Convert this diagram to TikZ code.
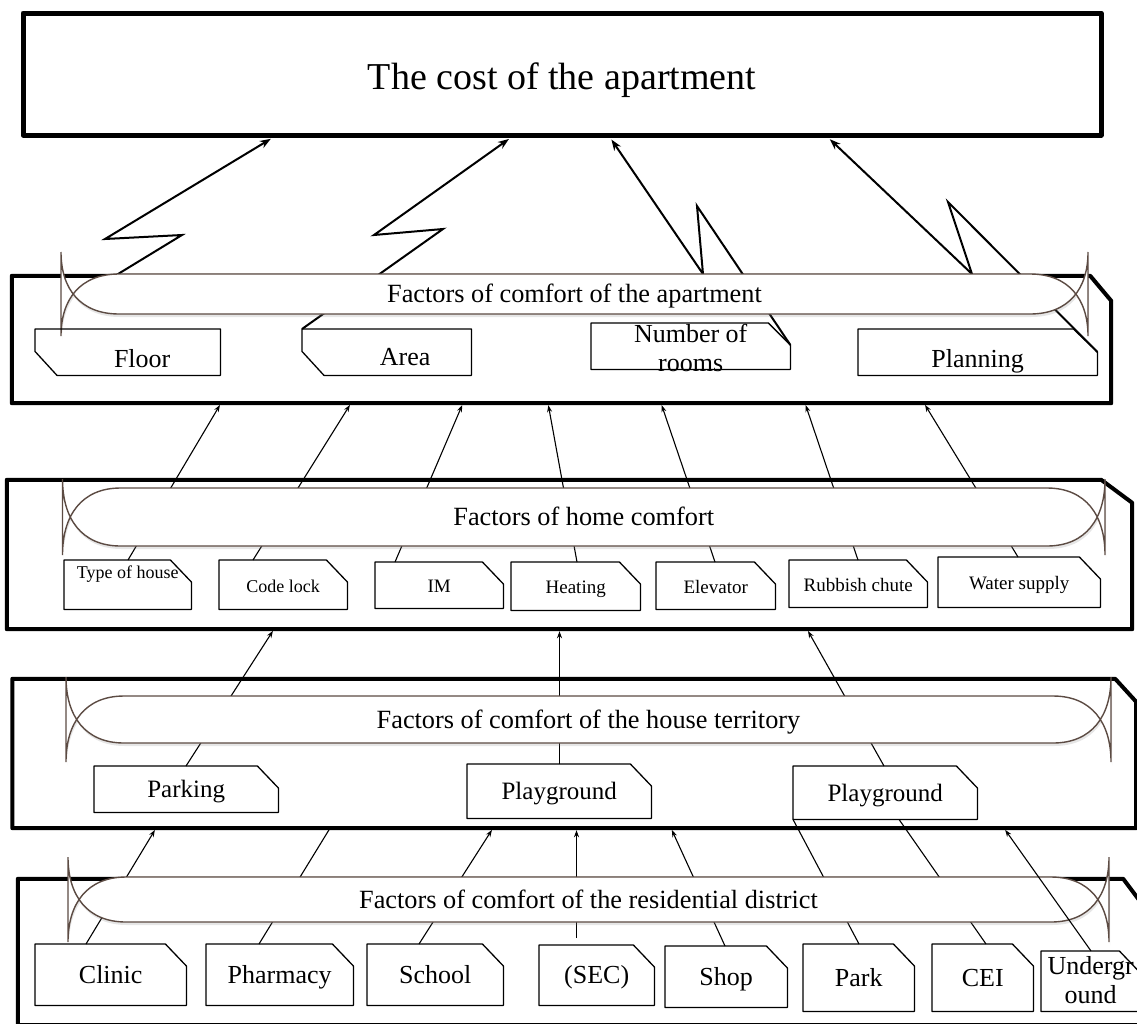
\documentclass[tikz,border=0pt]{standalone}
\usepackage{fontspec}
\setmainfont{Liberation Serif}
\usetikzlibrary{arrows.meta,shadows}
\definecolor{scrollbrown}{HTML}{5C4B43}

\newcommand{\tagne}[3]{\draw[tagline] (#1.north west) -- ([xshift=-#2pt]#1.north east) -- ([yshift=-#3pt]#1.north east) -- (#1.south east) -- (#1.south west) -- cycle;}
\newcommand{\tagsw}[3]{\draw[tagline] (#1.north west) -- (#1.north east) -- (#1.south east) -- ([xshift=#2pt]#1.south west) -- ([yshift=#3pt]#1.south west) -- cycle;}
\newcommand{\framene}[3]{\draw[frameline] (#1.north west) -- ([xshift=-#2pt]#1.north east) -- ([yshift=-#3pt]#1.north east) -- (#1.south east) -- (#1.south west) -- cycle;}
\newcommand{\banner}[7]{%
  \draw[bannerline] ({#2+58},#4) -- ({#3-58},#4)
    .. controls ({#3-19},#4) and (#3,{#4+0.41*(#5+#6-#4)}) .. (#3,{#5+#6})
    -- (#3,{#4-#6})
    .. controls (#3,{#5-0.41*(#5+#6-#4)}) and ({#3-19},#5) .. ({#3-58},#5)
    -- ({#2+58},#5)
    .. controls ({#2+19},#5) and (#2,{#5-0.41*(#5+#6-#4)}) .. (#2,{#4-#6})
    -- (#2,{#5+#6})
    .. controls (#2,{#4+0.41*(#5+#6-#4)}) and ({#2+19},#4) .. ({#2+58},#4) -- cycle;
  \node[bannertext] (#1) at ({(#2+#3)/2},{(#4+#5)/2}) {#7};}

\begin{document}
\begin{tikzpicture}[x=1pt, y=-1pt,
		costbox/.style={draw, line width=5pt, line join=round, inner sep=0pt,
			font=\fontsize{38}{40}\selectfont, text height=30pt, text depth=0pt},
		laybox/.style={inner sep=0pt},
		frameline/.style={line width=4pt, line join=round},
		tag/.style={anchor=north west, inner sep=0pt, font=\fontsize{26}{29}\selectfont,
			text height=17pt, text depth=0pt},
		smalltag/.style={tag, font=\fontsize{19}{21}\selectfont, text height=15pt},
		tagline/.style={line width=1.3pt, line join=round},
		bannerline/.style={draw=scrollbrown, line width=1.4pt, fill=white,
			drop shadow={shadow xshift=1pt, shadow yshift=-3pt, opacity=0.2}},
		bannertext/.style={font=\fontsize{26.3}{29}\selectfont, text height=17pt, text depth=0pt},
		conn/.style={line width=1.1pt, -{Stealth[length=7pt,width=5pt]}, shorten >=2pt},
		link/.style={line width=1.1pt},
		bolt/.style={line width=2pt, -{Stealth[length=11pt,width=8pt]}, shorten >=2.5pt}]
	\useasboundingbox (0,0) rectangle (1137,1023);

	\node[costbox, minimum width=1078pt, minimum height=122pt] (cost) at (562,74) {The cost of the apartment};

	\node[laybox, minimum width=1099pt, minimum height=127pt] (lay1) at (561.5,339.5) {};
	\node[laybox, minimum width=1125pt, minimum height=149pt] (lay2) at (569.5,554.5) {};
	\node[laybox, minimum width=1123.5pt, minimum height=149pt] (lay3) at (574.25,753.5) {};
	\node[laybox, minimum width=1123pt, minimum height=146pt] (lay4) at (579.5,952) {};
	\framene{lay1}{21}{25}
	\framene{lay2}{31}{23}
	\framene{lay3}{21}{23}
	\framene{lay4}{18}{24}

	\node[tag, minimum width=185pt, minimum height=46pt] (floor) at (35,329) {\raisebox{-6.5pt}{\hspace*{29pt}Floor}};
	\node[tag, minimum width=169pt, minimum height=46pt] (area) at (302,329) {\raisebox{-4.5pt}{\hspace*{37pt}Area}};
	\node[tag, minimum width=199pt, minimum height=46pt] (rooms) at (591,323) {\raisebox{-16.5pt}{\parbox[b]{199pt}{\centering Number of\\rooms}}};
	\node[tag, minimum width=239pt, minimum height=46pt] (plan) at (858,329) {\raisebox{-6.5pt}{Planning}};

	\node[smalltag, font=\fontsize{18}{20}\selectfont, minimum width=127pt, minimum height=49pt] (type) at (64,560) {\raisebox{14pt}{Type of house}};
	\node[smalltag, font=\fontsize{18}{20}\selectfont, minimum width=128pt, minimum height=49pt] (code) at (219,560) {Code lock};
	\node[smalltag, minimum width=128pt, minimum height=46pt] (im) at (375,562) {IM};
	\node[smalltag, minimum width=129pt, minimum height=48pt] (heat) at (511,562) {Heating};
	\node[smalltag, minimum width=119pt, minimum height=47pt] (elev) at (656,562) {Elevator};
	\node[smalltag, minimum width=138pt, minimum height=47pt] (rub) at (789,560) {Rubbish chute};
	\node[smalltag, minimum width=162pt, minimum height=50pt] (water) at (938,557) {Water supply};

	\node[tag, font=\fontsize{25}{28}\selectfont, minimum width=184pt, minimum height=46pt] (parking) at (94,766) {Parking};
	\node[tag, font=\fontsize{25}{28}\selectfont, minimum width=184pt, minimum height=54pt] (playa) at (467,764) {Playground};
	\node[tag, font=\fontsize{25}{28}\selectfont, minimum width=184pt, minimum height=53pt] (playb) at (793,766) {Playground};

	\node[tag, minimum width=151pt, minimum height=61pt] (clinic) at (35,944) {Clinic};
	\node[tag, minimum width=147pt, minimum height=61pt] (pharm) at (206,944) {Pharmacy};
	\node[tag, minimum width=136pt, minimum height=61pt] (school) at (367,944) {School};
	\node[tag, minimum width=115pt, minimum height=60pt] (sec) at (539,945) {(SEC)};
	\node[tag, minimum width=122pt, minimum height=61pt] (shop) at (665,946) {Shop};
	\node[tag, minimum width=111pt, minimum height=67pt] (park) at (803,944) {Park};
	\node[tag, minimum width=101pt, minimum height=67pt] (cei) at (932,944) {CEI};
	\node[tag, minimum width=99pt, minimum height=60pt] (under) at (1041,951) {\raisebox{-13.5pt}{\parbox[b]{99pt}{\centering Undergr\\ound}}};

	\coordinate (fstart) at (100,285);
	\draw[bolt] (fstart) -- (182,235) -- (105,239) -- (cost.south -| 273,0);
	\draw[bolt] (area.north west) -- (443,229) -- (374,235) -- (cost.south -| 511,0);
	\draw[bolt] ([yshift=-22pt]rooms.north east) -- (697,206) -- (703,274) -- (cost.south -| 610,0);
	\draw[bolt] ([yshift=-23pt]plan.north east) -- (948,202) -- (972,274) -- (cost.south -| 828,0);

	\draw[conn] (type.north -| 128,0) -- (lay1.south -| 221,0);
	\draw[conn] (code.north -| 253,0) -- (lay1.south -| 351,0);
	\draw[conn] (im.north -| 395,0) -- (lay1.south -| 463,0);
	\draw[conn] (heat.north -| 577,0) -- (lay1.south -| 548,0);
	\draw[conn] (elev.north -| 715,0) -- (lay1.south -| 661,0);
	\draw[conn] (rub.north -| 858,0) -- (lay1.south -| 805,0);
	\draw[conn] (water.north -| 1018,0) -- (lay1.south -| 924,0);

	\draw[conn] (parking.north -| 186,0) -- (lay2.south -| 274,0);
	\draw[conn] (playa.north -| 559.5,0) -- (lay2.south -| 559.5,0);
	\draw[conn] (playb.north -| 884,0) -- (lay2.south -| 807,0);

	\draw[conn] (clinic.north -| 86,0) -- (lay3.south -| 156,0);
	\draw[link] (pharm.north -| 259,0) -- (lay3.south -| 330,0);
	\draw[conn] (school.north -| 419,0) -- (lay3.south -| 493,0);
	\draw[conn, shorten <=7pt] (sec.north -| 576.5,0) -- (lay3.south -| 576.5,0);
	\draw[conn] (shop.north -| 725,0) -- (lay3.south -| 671,0);
	\draw[link] (park.north -| 859,0) -- (playb.south west);
	\draw[link] (cei.north -| 986,0) -- (playb.south -| 899,0);

	\banner{apt}{61}{1088}{274}{314}{22}{Factors of comfort of the apartment}
	\banner{home}{62.5}{1105}{488}{546}{9}{Factors of home comfort}
	\banner{terr}{66}{1111}{696}{743}{19}{Factors of comfort of the house territory}
	\banner{dist}{68}{1109}{877}{922}{20}{Factors of comfort of the residential district}

	\tagsw{floor}{22}{24}
	\tagsw{area}{22}{24}
	\tagne{rooms}{22}{22}
	\tagne{plan}{24}{23}
	\foreach \n in {type,code,im,heat,elev,rub,water,parking,playa,playb,clinic,pharm,school,sec,shop,park,cei,under}
		{\tagne{\n}{21}{22}}

	\draw[conn] (under.north -| 1091,0) -- (lay3.south -| 1004,0);
\end{tikzpicture}
\end{document}
